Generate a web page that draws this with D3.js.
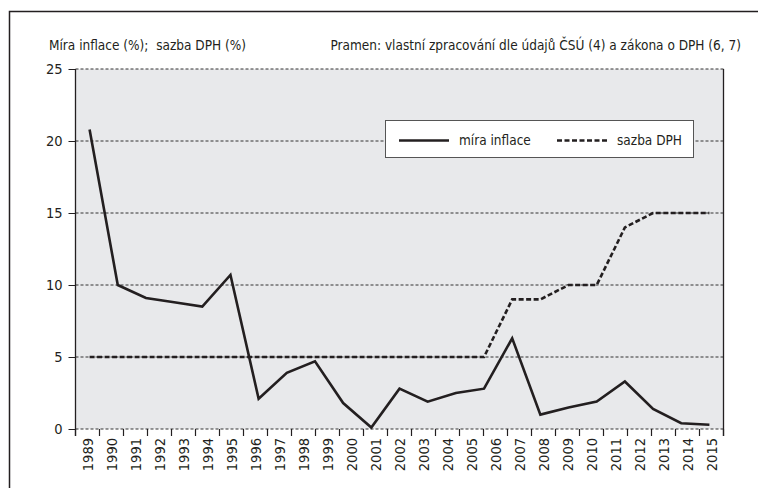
<!DOCTYPE html>
<html lang="cs">
<head>
<meta charset="utf-8">
<style>
  body { margin: 0; background: white; }
  svg { display: block; background: white; }
  text { font-family: "Liberation Sans Narrow", "DejaVu Sans Condensed", "Liberation Sans", sans-serif; fill: #231f20; }
  .grid { stroke: #333; stroke-width: 1px; stroke-dasharray: 3,2; }
  .axisline { stroke: #231f20; stroke-width: 1.3px; }
  .infl { fill: none; stroke: #231f20; stroke-width: 2.6px; }
  .dph { fill: none; stroke: #231f20; stroke-width: 2.6px; stroke-dasharray: 5,2.5; }
</style>
<script src="https://d3js.org/d3.v7.min.js"></script>
</head>
<body>
<script>
// popisky osy x (tak jak jsou v grafu)
var yearLabels = ["1989","1990","1991","1992","1993","1994","1995","1996","1997","1998",
                  "1999","2000","2001","2002","2003","2004","2005","2006","2007","2008",
                  "2009","2010","2011","2012","2013","2014","2015"];
// roky dat
var dataYears = [1993,1994,1995,1996,1997,1998,1999,2000,2001,2002,2003,2004,
                 2005,2006,2007,2008,2009,2010,2011,2012,2013,2014,2015];
var inflace = [20.8,10.0,9.1,8.8,8.5,10.7,2.1,3.9,4.7,1.8,0.1,2.8,
               1.9,2.5,2.8,6.3,1.0,1.5,1.9,3.3,1.4,0.4,0.3];
var sazbaDPH = [5,5,5,5,5,5,5,5,5,5,5,5,
                5,5,5,9,9,10,10,14,15,15,15];
var yTicks = [0,5,10,15,20,25];

var width = 758, height = 488;
var pLeft = 75.5, pRight = 723.5, pTop = 69, pBottom = 429;

var svg = d3.select("body").append("svg")
    .attr("width", width)
    .attr("height", height);

// ramecek
svg.append("rect")
    .attr("x", 9.5).attr("y", 11.5)
    .attr("width", 800).attr("height", 600)
    .attr("fill", "none").attr("stroke", "#231f20").attr("stroke-width", 1.5);

var y = d3.scaleLinear().domain([0, 25]).range([pBottom, pTop]);
var xBand = d3.scaleBand().domain(yearLabels).range([pLeft, pRight]);
var x = d3.scalePoint().domain(dataYears).range([pLeft, pRight]).padding(0.5);

// plocha grafu
svg.append("rect")
    .attr("x", pLeft).attr("y", pTop)
    .attr("width", pRight - pLeft).attr("height", pBottom - pTop)
    .attr("fill", "#e8e9eb");

// mrizka
svg.append("g").selectAll("line")
    .data(yTicks)
    .enter().append("line")
    .attr("class", "grid")
    .attr("x1", pLeft).attr("x2", pRight)
    .attr("y1", function(d) { return y(d); })
    .attr("y2", function(d) { return y(d); });

// osa y
var yAxis = svg.append("g")
    .attr("transform", "translate(" + pLeft + ",0)")
    .call(d3.axisLeft(y).tickValues(yTicks).tickSize(7).tickPadding(6));
yAxis.select(".domain").remove();
yAxis.selectAll(".tick line").attr("stroke", "#231f20").attr("stroke-width", 1);
yAxis.selectAll(".tick text")
    .attr("fill", "#231f20")
    .style("font-size", "14.5px");
yAxis.attr("font-family", null).attr("font-size", null);

svg.append("line").attr("class", "axisline")
    .attr("x1", pLeft).attr("x2", pLeft).attr("y1", pTop).attr("y2", pBottom + 7);
svg.append("line").attr("class", "axisline")
    .attr("x1", pRight).attr("x2", pRight).attr("y1", pTop).attr("y2", pBottom + 7);

// osa x - znacky na hranicich kategorii
var xTickPos = yearLabels.map(function(d) { return xBand(d); }).concat([pRight]);
svg.append("g").selectAll("line")
    .data(xTickPos)
    .enter().append("line")
    .attr("x1", function(d) { return d; })
    .attr("x2", function(d) { return d; })
    .attr("y1", pBottom).attr("y2", pBottom + 7)
    .attr("stroke", "#231f20").attr("stroke-width", 1.2);

svg.append("g").selectAll("text")
    .data(yearLabels)
    .enter().append("text")
    .attr("transform", function(d) {
        return "translate(" + (xBand(d) + xBand.bandwidth() / 2) + "," + (pBottom + 9) + ") rotate(-90)";
    })
    .attr("dy", "0.35em")
    .attr("text-anchor", "end")
    .style("font-size", "14.5px")
    .text(function(d) { return d; });

// data
var line = d3.line()
    .x(function(d, i) { return x(dataYears[i]); })
    .y(function(d) { return y(d); });

svg.append("path").datum(sazbaDPH).attr("class", "dph").attr("d", line);
svg.append("path").datum(inflace).attr("class", "infl").attr("d", line);

// legenda
var lg = svg.append("g");
lg.append("rect")
    .attr("x", 385.5).attr("y", 120.5).attr("width", 308).attr("height", 37)
    .attr("fill", "white").attr("stroke", "#555").attr("stroke-width", 1);
lg.append("line").attr("class", "infl")
    .attr("x1", 399).attr("x2", 449).attr("y1", 140.5).attr("y2", 140.5);
lg.append("text").attr("x", 459).attr("y", 145).style("font-size", "13.5px").text("míra inflace");
lg.append("line").attr("class", "dph")
    .attr("x1", 557).attr("x2", 607).attr("y1", 140.5).attr("y2", 140.5);
lg.append("text").attr("x", 617).attr("y", 145).style("font-size", "13.5px").text("sazba DPH");

// nadpisy
svg.append("text").attr("x", 49).attr("y", 49.5)
    .style("font-size", "13.5px")
    .text("Míra inflace (%);\u00a0 sazba DPH (%)");
svg.append("text").attr("x", 741).attr("y", 49.5)
    .attr("text-anchor", "end")
    .style("font-size", "13.5px")
    .text("Pramen: vlastní zpracování dle údajů ČSÚ (4) a zákona o DPH (6, 7)");
</script>
</body>
</html>
